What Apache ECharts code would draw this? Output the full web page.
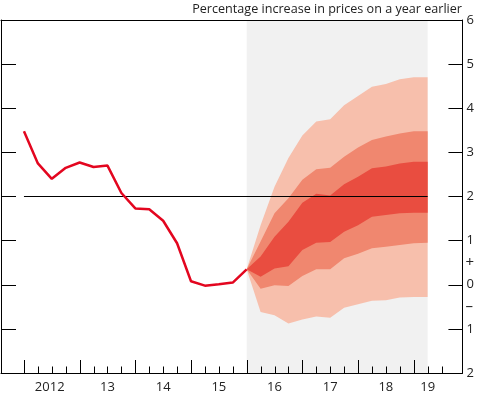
<!DOCTYPE html>
<html>
<head>
<meta charset="utf-8">
<script src="https://cdn.jsdelivr.net/npm/echarts@6/dist/echarts.min.js"></script>
<style>
  html, body { margin: 0; padding: 0; background: #fff; }
  #chart { width: 477px; height: 395px; }
</style>
</head>
<body>
<div id="chart"></div>
<script>
// ---- data (x = quarter index, 0 = 2012 Q1) ----
const histX = [0,1,2,3,4,5,6,7,8,9,10,11,12,13,14,15,16];
const cpiHistory = [3.48,2.75,2.40,2.65,2.77,2.67,2.70,2.08,1.73,1.71,1.45,0.94,0.08,-0.02,0.01,0.05,0.35];

const fanX = [16,17,18,19,20,21,22,23,24,25,26,27,28,29];
const outerTop    = [0.35,1.35,2.22,2.87,3.38,3.70,3.75,4.07,4.28,4.49,4.55,4.66,4.70,4.70];
const midTop      = [0.35,0.98,1.62,1.96,2.38,2.62,2.65,2.90,3.11,3.28,3.36,3.43,3.48,3.48];
const innerTop    = [0.35,0.64,1.09,1.43,1.86,2.06,2.02,2.28,2.45,2.64,2.68,2.75,2.79,2.79];
const innerBottom = [0.35,0.18,0.37,0.42,0.79,0.95,0.97,1.20,1.35,1.54,1.58,1.62,1.63,1.63];
const midBottom   = [0.35,-0.09,-0.01,-0.03,0.20,0.35,0.35,0.60,0.70,0.83,0.86,0.90,0.94,0.95];
const outerBottom = [0.35,-0.62,-0.69,-0.88,-0.79,-0.72,-0.75,-0.52,-0.44,-0.36,-0.35,-0.29,-0.28,-0.28];

const projectionStart = 16;
const projectionEnd = 29;
const targetX = [0, 29];
const targetY = [2, 2];

const quarterTicks = [0,1,2,3,4,5,6,7,8,9,10,11,12,13,14,15,16,17,18,19,20,21,22,23,24,25,26,27,28,29,30];
const yearTicks = [0,4,8,12,16,20,24,28];
const xLabelPos = [1.85,6,10,14,18,22,26,29];
const xLabels = ['2012','13','14','15','16','17','18','19'];

const signLabels = { '0.5': '+', '-0.5': '\u2013' };

const FONT = '"Open Sans", "Noto Sans", sans-serif';
const TXT = '#222';

const chart = echarts.init(document.getElementById('chart'));

function band(upper, lower, color, z) {
  return {
    type: 'custom', coordinateSystem: 'cartesian2d', silent: true, z: z,
    data: [[fanX[0], upper[0]]],
    renderItem: function (params, api) {
      const pts = [];
      for (let i = 0; i < fanX.length; i++) pts.push(api.coord([fanX[i], upper[i]]));
      for (let i = fanX.length - 1; i >= 0; i--) pts.push(api.coord([fanX[i], lower[i]]));
      return { type: 'polygon', shape: { points: pts }, style: { fill: color } };
    }
  };
}

const axisBase = {
  type: 'value', min: -1.65, max: 31.5,
  axisTick: { show: false }, axisLabel: { show: false }, splitLine: { show: false },
  axisLine: { show: true, onZero: false, lineStyle: { color: '#000', width: 1 } },
  z: 10
};

const option = {
  animation: false,
  backgroundColor: '#fff',
  title: {
    text: 'Percentage increase in prices on a year earlier',
    right: 15, top: 3, padding: 0,
    textStyle: { fontSize: 12.6, fontWeight: 'normal', fontFamily: FONT, color: TXT }
  },
  grid: { left: 1, right: 14, top: 20, bottom: 22, containLabel: false },
  xAxis: [
    Object.assign({}, axisBase, { position: 'bottom' }),
    Object.assign({}, axisBase, { position: 'top' })
  ],
  yAxis: [
    {
      type: 'value', min: -2, max: 6, interval: 1, position: 'right', z: 10,
      axisLine: { show: true, onZero: false, lineStyle: { color: '#000', width: 1 } },
      axisTick: { show: true, inside: true, length: 14, lineStyle: { color: '#000' } },
      axisLabel: { show: true, margin: 4, fontSize: 13, fontFamily: FONT, color: TXT,
        formatter: function (v) { return String(Math.abs(v)); } },
      splitLine: { show: false }
    },
    {
      type: 'value', min: -2, max: 6, interval: 1, position: 'left', z: 10,
      axisLine: { show: true, onZero: false, lineStyle: { color: '#000', width: 1 } },
      axisTick: { show: true, inside: true, length: 15, lineStyle: { color: '#000' } },
      axisLabel: { show: false },
      splitLine: { show: false }
    },
    {
      type: 'value', min: -2, max: 6, interval: 0.5, position: 'right', z: 10,
      axisLine: { show: false, onZero: false }, axisTick: { show: false }, splitLine: { show: false },
      axisLabel: { show: true, margin: 3, fontSize: 15, fontFamily: FONT, color: TXT,
        formatter: function (v) { return signLabels[String(v)] || ''; } }
    }
  ],
  series: [
    {
      type: 'line', data: [], z: 1, silent: true,
      markArea: {
        silent: true,
        itemStyle: { color: '#f1f1f1' },
        data: [[{ xAxis: projectionStart, yAxis: -2 }, { xAxis: projectionEnd, yAxis: 6 }]]
      }
    },
    band(outerTop, outerBottom, '#f7bfac', 2),
    band(midTop, midBottom, '#f0876f', 3),
    band(innerTop, innerBottom, '#e94d40', 4),
    {
      type: 'line', z: 5, silent: true, symbol: 'none',
      data: targetX.map(function (x, i) { return [x, targetY[i]]; }),
      lineStyle: { color: '#000', width: 1 }
    },
    {
      type: 'line', z: 6, silent: true,
      data: histX.map(function (x, i) { return [x, cpiHistory[i]]; }),
      symbol: 'none',
      lineStyle: { color: '#e3061f', width: 2.5 }
    },
    {
      type: 'custom', z: 11, silent: true, clip: false,
      data: quarterTicks.map(function (q) { return [q, -2]; }),
      encode: { x: 0, y: 1 },
      renderItem: function (params, api) {
        const q = api.value(0);
        const p = api.coord([q, -2]);
        const len = yearTicks.indexOf(q) >= 0 ? 13 : 6.5;
        const x = Math.round(p[0]) + 0.5;
        return { type: 'line', shape: { x1: x, y1: p[1], x2: x, y2: p[1] - len },
          style: { stroke: '#000', lineWidth: 1 } };
      }
    },
    {
      type: 'custom', z: 11, silent: true, clip: false,
      data: xLabelPos.map(function (x, i) { return [x, -2, xLabels[i]]; }),
      encode: { x: 0, y: 1 },
      renderItem: function (params, api) {
        const i = params.dataIndex;
        const p = api.coord([xLabelPos[i], -2]);
        return { type: 'text', x: p[0], y: p[1] + 14,
          style: { text: xLabels[i], align: 'center', verticalAlign: 'middle',
            fontSize: 13, fontFamily: FONT, fill: TXT } };
      }
    }
  ]
};

chart.setOption(option);
</script>
</body>
</html>
